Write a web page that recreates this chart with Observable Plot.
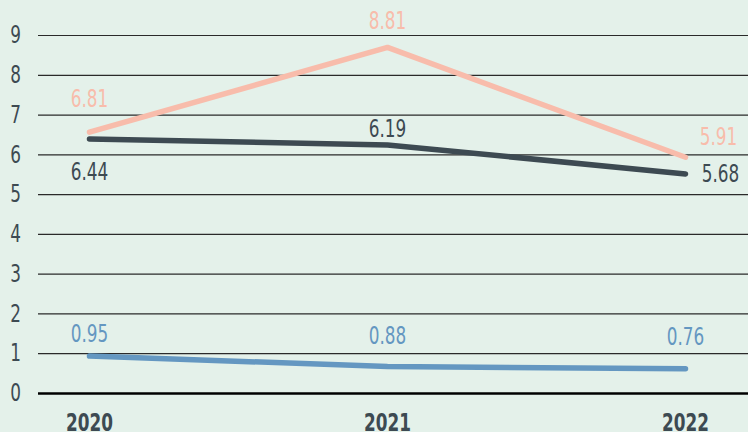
<!DOCTYPE html>
<html>
<head>
<meta charset="utf-8">
<script src="https://cdn.jsdelivr.net/npm/d3@7"></script>
<script src="https://cdn.jsdelivr.net/npm/@observablehq/plot@0.6"></script>
<style>
  html, body { margin: 0; padding: 0; background: #e4f1ea; }
  #chart svg { display: block; }
  #chart svg text { font-family: 'DejaVu Sans', sans-serif; font-stretch: condensed; }
</style>
</head>
<body>
<div id="chart"></div>
<script>
const years = ["2020", "2021", "2022"];
const seriesNames = ["pink", "dark", "blue"];
// plotted positions
const pinkValues = [6.57, 8.70, 5.94];
const darkValues = [6.40, 6.25, 5.52];
const blueValues = [0.94, 0.68, 0.62];
// printed labels
const pinkLabels = ["6.81", "8.81", "5.91"];
const darkLabels = ["6.44", "6.19", "5.68"];
const blueLabels = ["0.95", "0.88", "0.76"];
const yTicks = [0, 1, 2, 3, 4, 5, 6, 7, 8, 9];

const colors = {pink: "#f8bcab", dark: "#3d4a52", blue: "#6497c1"};
const valuesBy = {pink: pinkValues, dark: darkValues, blue: blueValues};
const labelsBy = {pink: pinkLabels, dark: darkLabels, blue: blueLabels};

const data = [];
for (const s of seriesNames) {
  years.forEach((yr, i) => data.push({series: s, year: yr, i, value: valuesBy[s][i], label: labelsBy[s][i]}));
}

// label placement relative to each point (layout, not data)
function dyFor(d) {
  if (d.series === "pink") return [-33, -26, -20][d.i];
  if (d.series === "dark") return [33, -16, 0][d.i];
  return [-22, -30, -32][d.i];
}
function dxFor(d) {
  if (d.i === 2 && d.series !== "blue") return d.series === "pink" ? 33 : 35;
  return 0;
}

const font = "'DejaVu Sans', sans-serif";
const labelMarks = data.map(d => Plot.text([d], {
  x: "year", y: "value", text: "label",
  dy: dyFor(d), dx: dxFor(d),
  fill: colors[d.series], fontSize: 24, fontFamily: font
}));

const chart = Plot.plot({
  width: 748, height: 432,
  marginLeft: 38, marginRight: 0, marginTop: 35, marginBottom: 39,
  style: {background: "#e4f1ea", fontFamily: font, overflow: "visible"},
  x: {type: "point", domain: years, range: [89, 685], padding: 0},
  y: {domain: [0, 9]},
  marks: [
    Plot.ruleY(yTicks.filter(t => t > 0), {stroke: "#2a2a2a", strokeWidth: 1.2}),
    Plot.ruleY([0], {stroke: "#000", strokeWidth: 2.5}),
    Plot.axisY({ticks: yTicks, tickSize: 0, tickPadding: 0, dx: -23, textAnchor: "middle",
      fontSize: 24, fill: "#3d4a52", label: null, fontFamily: font}),
    Plot.axisX({tickSize: 0, tickPadding: 20, fontSize: 24, fontWeight: "bold",
      fill: "#3d4a52", label: null, fontFamily: font}),
    Plot.line(data, {x: "year", y: "value", z: "series", stroke: d => colors[d.series],
      strokeWidth: 5.5, strokeLinecap: "round", strokeLinejoin: "round"}),
    ...labelMarks
  ]
});
document.getElementById("chart").appendChild(chart);

// narrow the glyphs horizontally to mimic a condensed face
chart.querySelectorAll("text").forEach(t => {
  const w = t.getComputedTextLength();
  if (w > 0) {
    t.setAttribute("textLength", (w * 0.78).toFixed(2));
    t.setAttribute("lengthAdjust", "spacingAndGlyphs");
  }
});
</script>
</body>
</html>
